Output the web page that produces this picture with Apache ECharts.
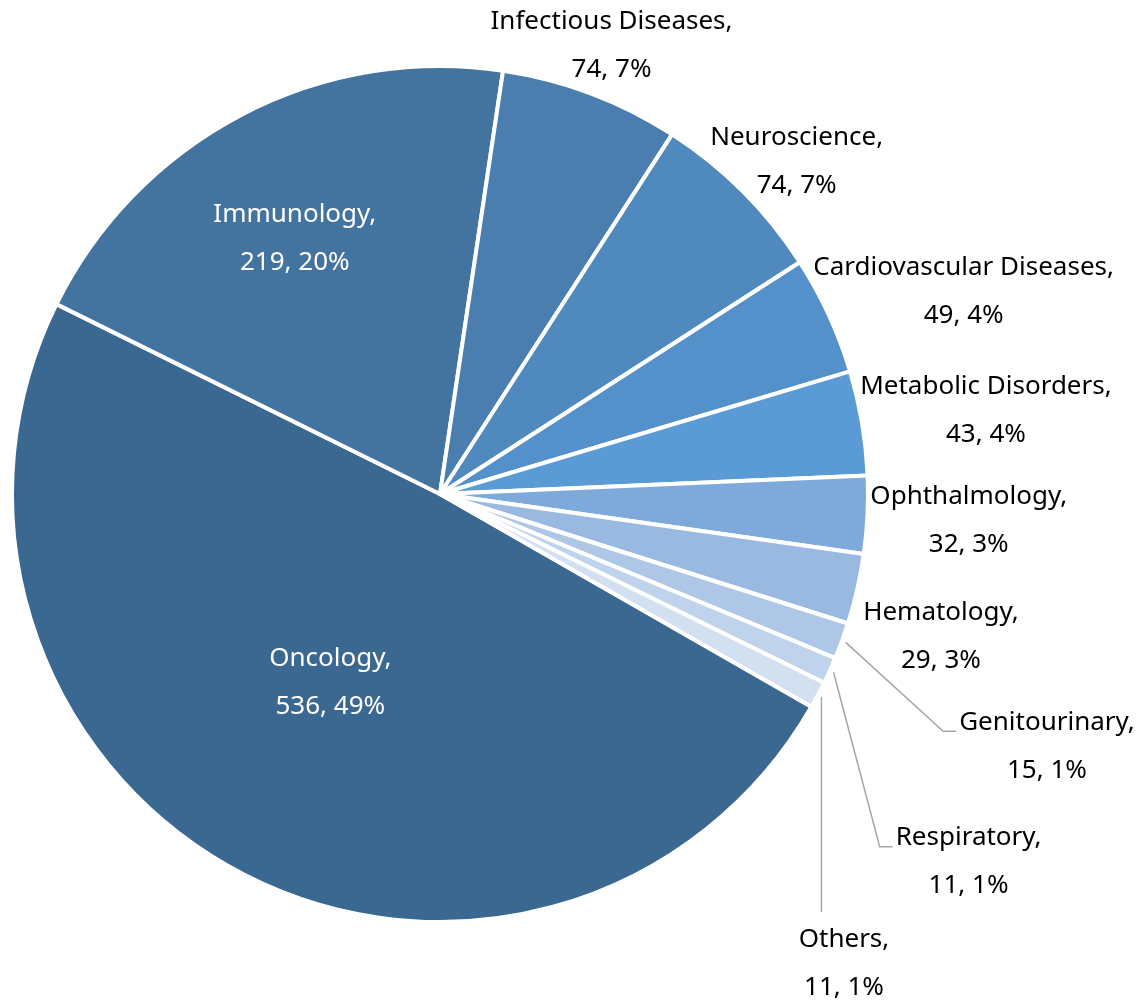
<!DOCTYPE html>
<html>
<head>
<meta charset="utf-8">
<script src="https://cdn.jsdelivr.net/npm/echarts@6/dist/echarts.min.js"></script>
<style>
  html, body { margin: 0; padding: 0; background: #ffffff; }
  #chart { width: 1143px; height: 1003px; }
</style>
</head>
<body>
<div id="chart"></div>
<script>
// ---- Data ----
const categories = ['Oncology', 'Immunology', 'Infectious Diseases', 'Neuroscience',
  'Cardiovascular Diseases', 'Metabolic Disorders', 'Ophthalmology', 'Hematology',
  'Genitourinary', 'Respiratory', 'Others'];
const values = [536, 219, 74, 74, 49, 43, 32, 29, 15, 11, 11];
const sliceColors = ['#3B6890', '#43739F', '#4A7EAE', '#4F89BD', '#5490CA', '#5B9BD5',
  '#7EAADB', '#9AB9E0', '#AFC7E6', '#C0D3EC', '#D3E0F2'];

// ---- Layout / style configuration ----
const CX = 440, CY = 494, R = 428;
const START_CW = 119.8; // first slice starts this many degrees clockwise from 12 o'clock
const FONT = 'Noto Sans';
const FONT_SIZE = 26;
const LINE_H = 48;
// per-slice label placement (style config)
const labelPlacement = [
  { mode: 'inner', frac: 0.51, nudge: [-7, -4] },
  { mode: 'inner', frac: 0.687, nudge: [-9, 5] },
  { mode: 'outer', nudge: [-25, 4] },
  { mode: 'outer', nudge: [-13, 10] },
  { mode: 'outer', nudge: [-9, 0] },
  { mode: 'outer', nudge: [-8, -3] },
  { mode: 'outer', nudge: [-5, 3] },
  { mode: 'outer', nudge: [0, 35] },
  { mode: 'leftLeader', nudge: [115, 86] },
  { mode: 'leftLeader', nudge: [65, 168] },
  { mode: 'topLeader', nudge: [-21, 242] }
];

const total = values.reduce((a, b) => a + b, 0);
function midDir(i) {
  let acc = 0;
  for (let k = 0; k < i; k++) acc += values[k];
  const th = (START_CW + (acc + values[i] / 2) / total * 360) * Math.PI / 180;
  return [Math.sin(th), -Math.cos(th)];
}

const seriesData = categories.map((name, i) => {
  const p = labelPlacement[i];
  const inner = p.mode === 'inner';
  const leader = p.mode === 'leftLeader' || p.mode === 'topLeader';
  return {
    name: name,
    value: values[i],
    itemStyle: { color: sliceColors[i] },
    label: { position: inner ? 'inside' : 'outside', color: inner ? '#ffffff' : '#000000' },
    labelLine: { show: leader }
  };
});

const chart = echarts.init(document.getElementById('chart'), null, { renderer: 'canvas' });
chart.setOption({
  backgroundColor: '#ffffff',
  animation: false,
  series: [{
    type: 'pie',
    center: [CX, CY],
    radius: [0, R],
    startAngle: 90 - START_CW,
    clockwise: true,
    avoidLabelOverlap: false,
    data: seriesData,
    itemStyle: { borderColor: '#ffffff', borderWidth: 4 },
    label: {
      show: true,
      fontFamily: FONT,
      fontSize: FONT_SIZE,
      lineHeight: LINE_H,
      align: 'center',
      formatter: function (p) {
        return p.name + ',\n' + p.value + ', ' + Math.round(p.value / total * 100) + '%';
      }
    },
    labelLine: {
      show: false,
      smooth: false,
      lineStyle: { color: '#A6A6A6', width: 1.5 }
    },
    emphasis: { disabled: true },
    labelLayout: function (params) {
      const i = params.dataIndex;
      const p = labelPlacement[i];
      const d = midDir(i);
      const w = params.labelRect.width, h = params.labelRect.height;
      let x, y;
      if (p.mode === 'inner') {
        x = CX + d[0] * R * p.frac + p.nudge[0];
        y = CY + d[1] * R * p.frac + p.nudge[1];
      } else {
        const a = R + 8;
        x = CX + d[0] * a + d[0] * w / 2 + p.nudge[0];
        y = CY + d[1] * a + d[1] * h / 2 + p.nudge[1];
      }
      const out = { x: x, y: y, align: 'center', verticalAlign: 'middle' };
      if (p.mode === 'leftLeader') {
        const sx = CX + d[0] * (R + 4), sy = CY + d[1] * (R + 4);
        const ex = x - w / 2 - 3, ey = y - 15;
        out.labelLinePoints = [[sx, sy], [ex - 13, ey], [ex, ey]];
      } else if (p.mode === 'topLeader') {
        const sx = CX + d[0] * (R + 4), sy = CY + d[1] * (R + 4);
        out.labelLinePoints = [[sx, sy], [sx, y - h / 2 - 3], [sx, y - h / 2 - 3]];
      }
      return out;
    }
  }]
});
</script>
</body>
</html>
